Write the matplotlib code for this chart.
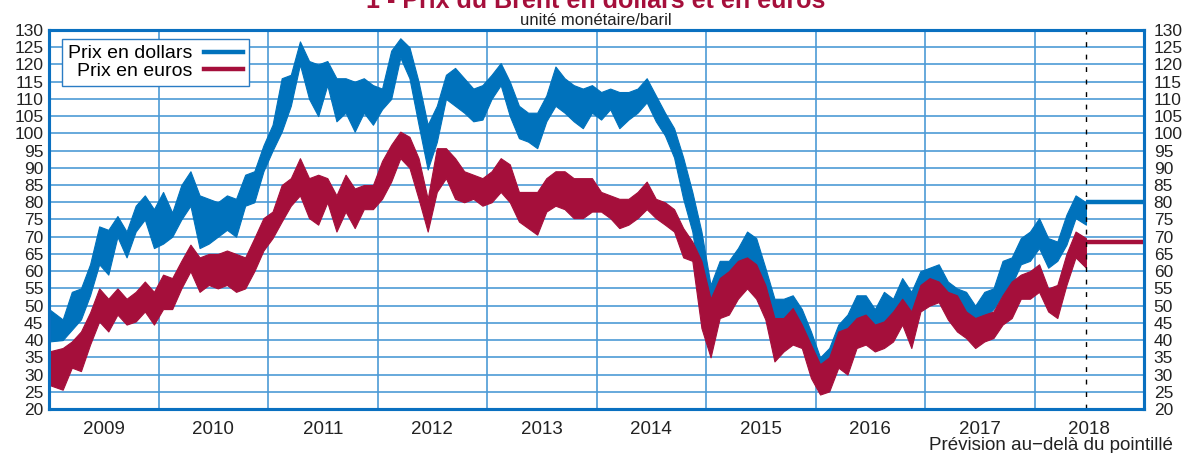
import numpy as np
import matplotlib
matplotlib.use("Agg")
import matplotlib.pyplot as plt
from matplotlib.lines import Line2D

plt.rcParams['font.family'] = ['Liberation Sans', 'DejaVu Sans']

# ---------------- data ----------------
title = "1 - Prix du Brent en dollars et en euros"
subtitle = "unité monétaire/baril"
note = "Prévision au\u2212delà du pointillé"
series_names = ["Prix en dollars", "Prix en euros"]

years = [2009, 2010, 2011, 2012, 2013, 2014, 2015, 2016, 2017, 2018]
year_labels = [str(y) for y in years]
y_ticks = list(range(20, 131, 5))

# monthly envelope (max / min) from Jan 2009 to Jun 2018
usd_high = [49, 46, 54, 55, 62, 73, 72, 76, 71.5, 79, 82, 78,
            83, 77, 85, 89, 82, 81, 80, 82, 81, 88, 89, 96.5,
            102.5, 116, 117, 126.7, 121, 120, 121, 116, 116, 115, 116, 114,
            113, 124, 127.6, 125, 115, 102.5, 108, 117, 119, 116, 113, 114,
            117, 120.4, 115, 108, 106, 106, 111, 119.4, 116, 114, 113, 114,
            112, 113, 112, 112, 113, 116, 111, 106, 101.5, 93, 83, 71.5,
            56, 63, 63, 66.7, 71.5, 69.6, 61, 52, 52, 53, 49, 42.5,
            35, 37.7, 44.5, 47.4, 53, 53, 49, 54, 52, 58, 54, 60,
            61, 62, 57, 55, 54, 50, 54, 55, 63, 64, 69.6, 71.5,
            75.4, 69.6, 68.6, 76.4, 82, 80]
usd_low = [39.6, 40, 43, 46, 53, 62, 59, 70, 64, 71.5, 75, 66.7,
           68, 70, 75, 79, 66.7, 68, 70, 72, 70, 79, 80, 89,
           95, 100.5, 108, 120, 110, 105, 114, 103.5, 106, 100.5, 106, 102.5,
           107, 110, 122, 116, 102.5, 89.5, 97.5, 110, 108, 106, 103.5, 104,
           110, 114, 105, 98.6, 97.6, 95.7, 103.5, 108, 106, 103.5, 101.5, 106,
           104, 107, 101.5, 104, 106, 109, 103.5, 99.4, 93, 81, 71.5, 54,
           47.4, 53, 52, 56, 60, 60, 50, 42.5, 45.5, 44.5, 40.5, 33,
           29, 30, 36.7, 37.7, 46.4, 44.5, 42.5, 44.5, 44.5, 50, 44.5, 52,
           53, 53, 48, 48, 45.5, 42.5, 46.4, 49, 53, 56, 62, 63,
           66.7, 61, 63, 67.7, 75.4, 73.5]
eur_high = [36.7, 37.7, 39.6, 42.5, 48, 55, 52, 55, 52, 54, 57, 54,
            59, 58, 63, 67.7, 64, 65, 65, 66, 65, 64, 69.6, 75.4,
            77.3, 85, 87, 92.8, 87, 88, 87, 82, 88, 84, 85, 85,
            92, 96.7, 100.5, 99, 92.8, 81, 95.7, 95.7, 92.8, 89, 88, 87,
            89, 92.8, 91, 83, 83, 83, 87, 89, 89, 87, 87, 87,
            83, 82, 81, 81, 83, 86, 81, 80, 78, 72.5, 68.6, 63,
            52, 58, 60, 63, 64, 62, 56, 46.4, 46.4, 49.3, 44.5, 38.7,
            33, 35, 42.5, 43.5, 46.4, 47.4, 44.5, 45.4, 48.3, 52, 48.3, 56,
            58, 57, 54, 53, 48.3, 46.4, 47.4, 48.3, 53, 57, 59, 60,
            62, 55, 56, 65, 71.5, 69.6]
eur_low = [27, 25.6, 32, 31, 38.7, 45.4, 42.5, 47.4, 44.5, 45.4, 48.3, 44.5,
           49, 49, 55, 60, 54, 56, 55, 56, 54, 55, 60, 66,
           69.6, 74.4, 79, 82, 75.4, 73.5, 80, 71.5, 77.3, 72.5, 78, 78,
           81, 86, 92.8, 90, 81, 71.5, 83, 87, 81, 80, 81, 79,
           80, 83, 80, 74.4, 72.5, 70.6, 77.3, 79, 78, 75.4, 75.4, 77.3,
           77.3, 75.4, 72.5, 73.5, 75.4, 78, 75.4, 73.5, 71.5, 64, 63, 43.5,
           35, 46.4, 47.4, 52, 55, 52, 46, 33.8, 36.7, 38.7, 37.7, 29,
           24.2, 25.1, 32, 30, 37.7, 38.7, 36.7, 37.7, 39.6, 44.5, 37.7, 48.3,
           50, 51, 46, 42.5, 40.6, 37.7, 39.6, 40.6, 44.5, 46.4, 52, 52,
           54, 48.3, 46.4, 56, 64, 61]

forecast_usd = 80.2
forecast_eur = 68.6
forecast_start = 2018.47   # dotted line
forecast_end = 2019.0

# ---------------- style ----------------
BLUE = '#0072BC'
RED = '#A50F3B'
GRID = '#4d9bd6'
FRAME = '#0a70c0'

W, H = 1189, 453
fig = plt.figure(figsize=(W / 100, H / 100), dpi=100)
ax = fig.add_axes([49 / W, 1 - 409 / H, (1144 - 49) / W, (409 - 30) / H])

n = len(usd_high)
x = years[0] + (np.arange(n) + 0.5) / 12.0
x[0] = years[0]
x[-1] = forecast_start

ax.fill_between(x, usd_low, usd_high, color=BLUE, lw=0.8, edgecolor=BLUE, zorder=3)
ax.fill_between(x, eur_low, eur_high, color=RED, lw=0.8, edgecolor=RED, zorder=4)

ax.plot([forecast_start, forecast_end], [forecast_usd, forecast_usd], color=BLUE, lw=3.2,
        solid_capstyle='butt', zorder=3)
ax.plot([forecast_start, forecast_end], [forecast_eur, forecast_eur], color=RED, lw=3.2,
        solid_capstyle='butt', zorder=4)
ax.axvline(forecast_start, color='black', lw=1.0, linestyle=(0, (3.5, 5.5)), zorder=5)

ax.set_xlim(years[0], forecast_end)
ax.set_ylim(20, 130)

# grid
ax.set_xticks(years[1:])
ax.set_xticks([y + 0.5 for y in years], minor=True)
ax.set_xticklabels([], minor=False)
ax.set_xticklabels(year_labels, minor=True, fontsize=13.5, color='#222222')
ax.tick_params(axis='x', which='both', length=0)
ax.tick_params(axis='x', which='minor', pad=9)
ax.grid(axis='x', which='major', color=GRID, lw=1.2, zorder=1)

ax.set_yticks(y_ticks)
ax.set_yticklabels([str(v) for v in y_ticks], fontsize=12.5, color='#222222')
ax.tick_params(axis='y', length=0, pad=4)
ax.grid(axis='y', color=GRID, lw=1.2, zorder=1)
ax.set_axisbelow(True)

ax2 = ax.twinx()
ax2.set_ylim(20, 130)
ax2.set_yticks(y_ticks)
ax2.set_yticklabels([str(v) for v in y_ticks], fontsize=12.5, color='#222222')
ax2.tick_params(axis='y', length=0, pad=7)

for a in (ax, ax2):
    for s in a.spines.values():
        s.set_color(FRAME)
        s.set_linewidth(2.2)

# legend
handles = [Line2D([], [], color=BLUE, lw=3.2), Line2D([], [], color=RED, lw=3.2)]
leg = ax.legend(handles, series_names, loc='upper left',
                bbox_to_anchor=(62 / W, 1 - 39 / H), bbox_transform=fig.transFigure,
                borderaxespad=0, markerfirst=False, fontsize=14, frameon=True,
                fancybox=False, edgecolor='#2a7cc4', framealpha=1,
                handlelength=2.0, handletextpad=0.6, labelspacing=0.0,
                borderpad=0.3)
leg.get_frame().set_linewidth(1.0)
leg.set_zorder(10)

# texts
fig.text(596 / W, 1 - 8 / H, title, ha='center', va='baseline', fontsize=18,
         fontweight='bold', color=RED)
fig.text(596 / W, 1 - 25 / H, subtitle, ha='center', va='baseline', fontsize=12,
         color='#222222')
fig.text(1173 / W, 1 - 450 / H, note, ha='right', va='baseline', fontsize=13.5,
         color='#222222')

fig.savefig('out.png', dpi=100)
